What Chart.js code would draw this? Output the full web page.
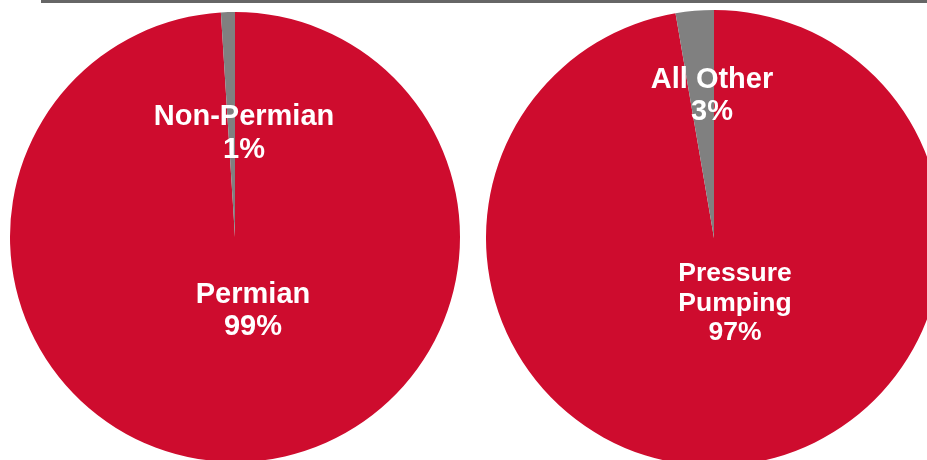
<!DOCTYPE html>
<html>
<head>
<meta charset="utf-8">
<script src="https://cdn.jsdelivr.net/npm/chart.js@4"></script>
<style>
  html, body { margin: 0; padding: 0; background: #ffffff; overflow: hidden; }
  #wrap { position: relative; width: 927px; height: 460px; overflow: hidden; background: #fff; }
  #topline { position: absolute; left: 41px; top: 0; width: 886px; height: 3px; background: #666666; }
  canvas { position: absolute; }
  #c1 { left: 10px; top: 12px; }
  #c2 { left: 486px; top: 10px; }
</style>
</head>
<body>
<div id="wrap">
  <div id="topline"></div>
  <canvas id="c1" width="450" height="450"></canvas>
  <canvas id="c2" width="456" height="456"></canvas>
</div>
<script>
// ---- data ----
const regionLabels = ['Permian', 'Non-Permian'];
const regionValues = [99, 1];
const segmentLabels = ['Pressure Pumping', 'All Other'];
const segmentValues = [97.3, 2.7];

const RED = '#CE0C2E';
const GRAY = '#808080';

// label plugin: draws "name / value%" in white bold text at an offset from the pie centre
const labelPlugin = {
  id: 'sliceLabels',
  afterDatasetsDraw(chart, args, opts) {
    const meta = chart.getDatasetMeta(0);
    const arc = meta.data[0];
    if (!arc) return;
    const cx = arc.x, cy = arc.y;
    const ctx = chart.ctx;
    const labels = chart.data.labels;
    const values = chart.data.datasets[0].data;
    ctx.save();
    ctx.fillStyle = '#ffffff';
    ctx.textAlign = 'center';
    ctx.textBaseline = 'alphabetic';
    labels.forEach((lab, i) => {
      const p = opts.pos[i];
      ctx.font = 'bold ' + p.fs + 'px "Liberation Sans", Arial, sans-serif';
      const lines = (opts.split && opts.split[i]) ? opts.split[i] : [lab];
      const all = lines.concat([Math.round(values[i]) + '%']);
      all.forEach((t, k) => {
        ctx.fillText(t, cx + p.dx, cy + p.dy + k * p.lh);
      });
    });
    ctx.restore();
  }
};

function makePie(id, labels, values, labelOpts) {
  return new Chart(document.getElementById(id), {
    type: 'pie',
    data: {
      labels: labels,
      datasets: [{
        data: values,
        backgroundColor: [RED, GRAY],
        borderWidth: 0,
        hoverOffset: 0
      }]
    },
    options: {
      responsive: false,
      devicePixelRatio: 1,
      animation: false,
      rotation: 0,
      layout: { padding: 0 },
      plugins: {
        legend: { display: false },
        tooltip: { enabled: false },
        sliceLabels: labelOpts
      }
    },
    plugins: [labelPlugin]
  });
}

makePie('c1', regionLabels, regionValues, {
  pos: [ { dx: 18, dy: 66, lh: 32, fs: 29 }, { dx: 9, dy: -112, lh: 33, fs: 29 } ]
});

makePie('c2', segmentLabels, segmentValues, {
  pos: [ { dx: 21, dy: 43, lh: 29.5, fs: 26.5 }, { dx: -2, dy: -150, lh: 32, fs: 29 } ],
  split: [ ['Pressure', 'Pumping'], null ]
});
</script>
</body>
</html>
